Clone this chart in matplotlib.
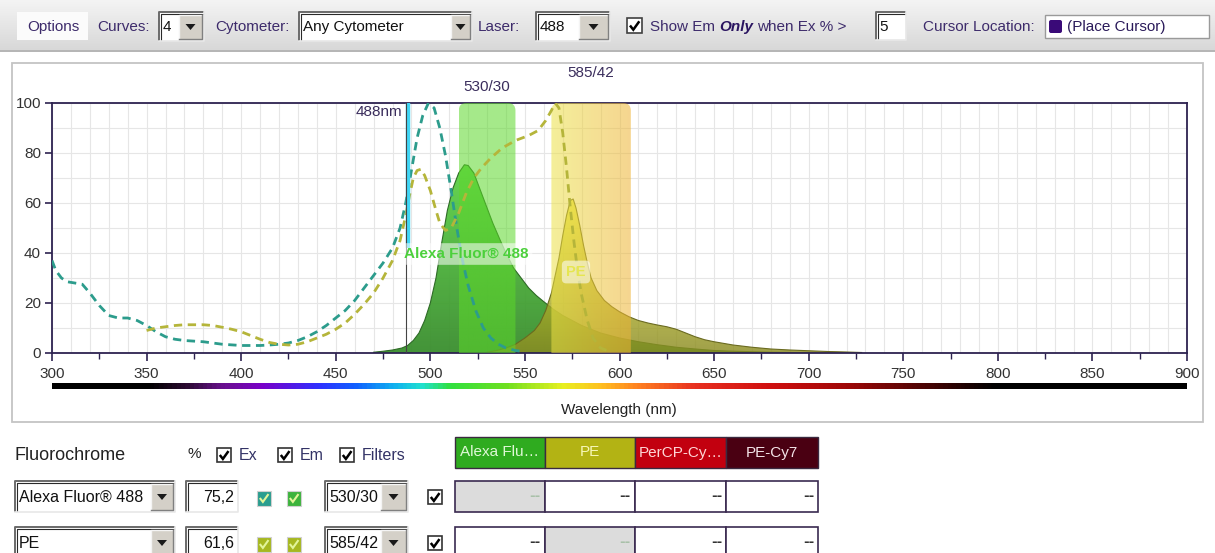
import numpy as np
import matplotlib
matplotlib.use("Agg")
import matplotlib.pyplot as plt
from matplotlib.patches import Rectangle, FancyBboxPatch, Polygon
from matplotlib.colors import LinearSegmentedColormap, Normalize

plt.rcParams['font.family'] = ['Liberation Sans', 'DejaVu Sans']

# ---------------- data ----------------
af488_ex_nm = [300, 302, 305, 308, 312, 316, 320, 325, 330, 335, 340, 345, 350, 355, 360, 365,
               370, 380, 390, 400, 410, 415, 420, 425, 430, 435, 440, 445, 450, 455, 460, 465,
               470, 475, 480, 484, 487, 490, 493, 496, 499, 502, 505, 508, 511, 514, 517, 520,
               524, 528, 532, 536, 540, 545, 550]
af488_ex = [37, 33, 30, 28.5, 28, 27.5, 24, 19, 15, 14, 14, 13, 11, 8.5, 6.5, 5.5,
            5, 4.5, 3.5, 3, 3, 3.2, 3.5, 4, 5, 6.5, 8.5, 11, 14, 17, 21, 26,
            31, 36, 42, 50, 60, 73, 86, 95, 100, 98, 90, 79, 65, 50, 37, 27,
            17, 10, 6, 3.5, 2, 1, 0.5]

pe_ex_nm = [350, 355, 360, 365, 370, 375, 380, 385, 390, 395, 400, 405, 410, 415, 420, 425,
            430, 435, 440, 445, 450, 455, 460, 465, 470, 475, 480, 484, 487, 489, 491, 493,
            495, 497, 500, 503, 505, 508, 511, 515, 519, 523, 527, 532, 538, 545, 552, 557,
            561, 564, 566, 568, 570, 572, 574, 576, 578, 580, 583, 586, 590, 595]
pe_ex = [9, 10, 10.5, 11, 11.3, 11.3, 11.3, 11, 10.3, 9.5, 8.5, 7, 5.5, 4.2, 3.5, 3.2,
         3.5, 4.5, 6, 7.5, 9.5, 12, 15.5, 19.5, 24, 30, 37, 45, 55, 63, 70, 73,
         73.5, 71, 65, 57, 52, 49, 50, 56, 64, 70, 74, 78, 82, 85, 87, 89,
         93, 97, 100, 98, 88, 74, 58, 44, 32, 23, 13, 6, 2, 0.5]

af488_em_nm = [470, 475, 480, 485, 488, 491, 494, 497, 500, 503, 506, 509, 512, 515, 518, 520,
               523, 526, 530, 533, 537, 540, 544, 548, 552, 556, 560, 565, 570, 575, 580, 585,
               590, 595, 600, 610, 620, 630, 640, 650, 660, 680, 700]
af488_em = [0.3, 0.7, 1.2, 2, 3, 5, 8, 13, 20, 30, 44, 57, 66, 72, 75.3, 75,
            72, 66, 58, 52, 45, 40, 34, 30, 26, 23, 20.5, 17.5, 15, 13, 11, 9.5,
            8, 7, 6, 4.5, 3.3, 2.3, 1.6, 1, 0.7, 0.3, 0.1]

pe_em_nm = [530, 535, 540, 545, 550, 555, 558, 561, 564, 566, 568, 570, 572, 574, 575.5, 577,
            579, 581, 583, 585, 588, 592, 596, 600, 605, 610, 615, 620, 625, 630, 635, 640,
            645, 650, 660, 670, 680, 690, 700, 710, 720, 728]
pe_em = [0.3, 1, 2, 3.5, 6, 9, 12, 17, 24, 31, 38, 47, 55, 61, 61.6, 58,
         51, 43, 36, 30, 25, 21, 18.5, 16.5, 14.5, 13, 12, 11.2, 10.5, 9.5, 8, 6.5,
         5.3, 4.5, 3.2, 2.3, 1.6, 1.2, 0.9, 0.6, 0.4, 0.2]

filter_names = ["530/30", "585/42"]
filter_center = [530, 585]
filter_width = [30, 42]
laser_nm = 488

x_ticks = list(range(300, 901, 50))
y_ticks = [0, 20, 40, 60, 80, 100]

fluor_names = ["Alexa Fluor® 488", "PE"]
fluor_pct = ["75,2", "61,6"]
fluor_filters = ["530/30", "585/42"]
header_names = ["Alexa Flu…", "PE", "PerCP-Cy…", "PE-Cy7"]
header_colors = ["#2fab1f", "#b3b314", "#c2000f", "#4a0012"]
header_text_colors = ["#dff8d6", "#f8f8b8", "#ffd6d6", "#f4e4e8"]
ex_box_colors = ["#2a9d8f", "#a6b820"]
em_box_colors = ["#3cb33c", "#a6b820"]

# ---------------- figure ----------------
W, H = 1215, 553
fig = plt.figure(figsize=(12.15, 5.53), dpi=100, facecolor="white")
bg = fig.add_axes([0, 0, 1, 1], zorder=0)
bg.axis("off")
bg.set_xlim(0, W)
bg.set_ylim(H, 0)

TXT = "#3d2b6b"
TB = 11

# toolbar gradient
tb_cmap = LinearSegmentedColormap.from_list("tb", ["#f4f4f4", "#d8d8d8"])
bg.imshow(np.linspace(0, 1, 60).reshape(-1, 1), extent=[0, W, 50, 0], cmap=tb_cmap,
          aspect="auto", interpolation="bilinear", zorder=0)
bg.plot([0, W], [50.5, 50.5], color="#a8a8a8", lw=1.2, zorder=1)


def sunken_box(x0, y0, x1, y1, fc="white"):
    bg.add_patch(Rectangle((x0, y0), x1 - x0, y1 - y0, fc=fc, ec="none", zorder=2))
    bg.plot([x0, x0, x1], [y1, y0, y0], color="#6a6a6a", lw=1.4, zorder=3,
            solid_capstyle="butt")
    bg.plot([x0 + 1.5, x0 + 1.5, x1 - 1], [y1 - 1, y0 + 1.5, y0 + 1.5], color="#2a2a2a",
            lw=0.8, zorder=3)
    bg.plot([x0, x1, x1], [y1, y1, y0], color="#e8e8e8", lw=1.2, zorder=3)


def arrow_button(x0, y0, x1, y1):
    bg.add_patch(Rectangle((x0, y0), x1 - x0, y1 - y0, fc="#d4d0c8", ec="none", zorder=4))
    bg.plot([x0, x0, x1], [y1, y0, y0], color="#f4f4f4", lw=1, zorder=5)
    bg.plot([x0, x1, x1], [y1, y1, y0], color="#808080", lw=1, zorder=5)
    cx, cy = (x0 + x1) / 2, (y0 + y1) / 2
    bg.add_patch(Polygon([(cx - 5, cy - 2.5), (cx + 5, cy - 2.5), (cx, cy + 3.5)],
                         closed=True, fc="#1a1a1a", ec="none", zorder=6))


def dropdown(x0, y0, x1, y1, aw, text, size=11.5, color="#111111"):
    sunken_box(x0, y0, x1, y1)
    arrow_button(x1 - aw, y0 + 2.5, x1 - 2, y1 - 2.5)
    bg.text(x0 + 4, (y0 + y1) / 2 + 0.5, text, ha="left", va="center", fontsize=size,
            color=color, zorder=6)


def check(x, y, s, color="black", lw=1.8):
    bg.plot([x + 0.2 * s, x + 0.42 * s, x + 0.82 * s],
            [y + 0.5 * s, y + 0.78 * s, y + 0.22 * s], color=color, lw=lw, zorder=7,
            solid_capstyle="butt", solid_joinstyle="miter")


def checkbox(x, y, s, fc="white", ec="#333333", ck="black"):
    bg.add_patch(Rectangle((x, y), s, s, fc=fc, ec=ec, lw=1.2, zorder=5))
    check(x, y, s, color=ck)


renderer = fig.canvas.get_renderer()


def text_right_px(t):
    bb = t.get_window_extent(renderer=renderer)
    return bb.x1 * W / fig.bbox.width


# toolbar contents
bg.add_patch(Rectangle((17, 12), 71, 28, fc="#fbfbfb", ec="none", zorder=2))
bg.text(27, 27, "Options", fontsize=TB, color=TXT, va="center", zorder=6)
bg.text(97, 27, "Curves:", fontsize=TB, color=TXT, va="center", zorder=6)
dropdown(159, 12, 204, 41, 25, "4", size=TB)
bg.text(215, 27, "Cytometer:", fontsize=TB, color=TXT, va="center", zorder=6)
dropdown(299, 12, 472, 41, 21, "Any Cytometer", size=TB)
bg.text(478, 27, "Laser:", fontsize=TB, color=TXT, va="center", zorder=6)
dropdown(536, 12, 610, 41, 31, "488", size=TB)
bg.add_patch(Rectangle((627, 18), 15, 15, fc="white", ec="#404040", lw=1.2, zorder=5))
check(627, 18, 15)
t1 = bg.text(650, 27, "Show Em", fontsize=TB, color=TXT, va="center", zorder=6)
x_only = text_right_px(t1) + 4
t2 = bg.text(x_only, 27, "Only", fontsize=TB, color="#2a1460", va="center",
             fontweight="bold", fontstyle="italic", zorder=6)
x_when = text_right_px(t2) + 4
bg.text(x_when, 27, "when Ex % >", fontsize=TB, color=TXT, va="center", zorder=6)
sunken_box(876, 12, 906, 40)
bg.text(879, 27, "5", fontsize=TB, color="#111", va="center", zorder=6)
bg.text(923, 27, "Cursor Location:", fontsize=TB, color=TXT, va="center", zorder=6)
bg.add_patch(Rectangle((1045, 15), 164, 23, fc="white", ec="#9a9a9a", lw=1, zorder=2))
bg.add_patch(FancyBboxPatch((1049, 20), 13, 13, boxstyle="round,pad=0,rounding_size=2",
                            fc="#3a0a78", ec="none", zorder=4))
bg.text(1067, 27, "(Place Cursor)", fontsize=TB, color="#2a1a5a", va="center", zorder=6)

# chart panel
bg.add_patch(Rectangle((12, 63), 1191, 359, fc="white", ec="#c4c4c4", lw=1.3, zorder=1))
bg.text(619, 410, "Wavelength (nm)", ha="center", va="center", fontsize=11, color="#222",
        zorder=6)

# lower controls
BT = "#222222"
bg.text(15, 455, "Fluorochrome", fontsize=13, color=BT, va="center", zorder=6)
bg.text(188, 454, "%", fontsize=11, color=BT, va="center", zorder=6)
checkbox(217, 448, 14)
bg.text(239, 455, "Ex", fontsize=11.5, color="#333366", va="center", zorder=6)
checkbox(278, 448, 14)
bg.text(300, 455, "Em", fontsize=11.5, color="#333366", va="center", zorder=6)
checkbox(340, 448, 14)
bg.text(362, 455, "Filters", fontsize=11.5, color="#333366", va="center", zorder=6)

cell_edges = [455, 545, 635, 726, 818]
for i, name in enumerate(header_names):
    x0, x1 = cell_edges[i], cell_edges[i + 1]
    bg.add_patch(Rectangle((x0, 437), x1 - x0, 31, fc=header_colors[i], ec="#3a2a40",
                           lw=1, zorder=3))
    bg.text((x0 + x1) / 2, 452.5, name, ha="center", va="center", fontsize=11,
            color=header_text_colors[i], zorder=6)

row_tops = [481, 527]
for r, name in enumerate(fluor_names):
    y0 = row_tops[r]
    y1 = y0 + 31
    dropdown(15, y0, 175, y1, 24, name, size=11.5)
    sunken_box(186, y0, 238, y1)
    bg.text(234, (y0 + y1) / 2 + 0.5, fluor_pct[r], ha="right", va="center", fontsize=11.5,
            color="#111", zorder=6)
    bg.add_patch(Rectangle((257, y0 + 10), 14, 15, fc=ex_box_colors[r], ec="#d0d0d0", lw=0.8,
                           zorder=5))
    check(257, y0 + 10, 14, color="#e2f59a", lw=1.5)
    bg.add_patch(Rectangle((287, y0 + 10), 14, 15, fc=em_box_colors[r], ec="#d0d0d0", lw=0.8,
                           zorder=5))
    check(287, y0 + 10, 14, color="#e2f59a", lw=1.5)
    dropdown(325, y0, 408, y1, 27, fluor_filters[r], size=11.5)
    checkbox(428, y0 + 9, 14)
    for i in range(len(header_names)):
        x0, x1 = cell_edges[i], cell_edges[i + 1]
        grey = (i == r)
        bg.add_patch(Rectangle((x0, y0), x1 - x0, y1 - y0, fc="#dcdcdc" if grey else "white",
                               ec="#3a2a50", lw=1.2, zorder=3))
        bg.text(x1 - 4, (y0 + y1) / 2, "--", ha="right", va="center", fontsize=9.5,
                family="DejaVu Sans", fontweight="bold",
                color="#a8c0a8" if grey else "#333", zorder=6)

bg.set_xlim(0, W)
bg.set_ylim(H, 0)

# ---------------- spectrum colour bar ----------------
spec_nm = [300, 350, 370, 390, 410, 440, 460, 480, 495, 510, 540, 570, 590, 610, 640, 680,
           720, 760, 790, 800, 900]
spec_col = ["#000000", "#000000", "#2a0a30", "#6a1090", "#7a00c8", "#3030ff", "#1060ff",
            "#10b0f0", "#20e0d0", "#30e040", "#70e020", "#e8f020", "#ffc020", "#ff8020",
            "#e83020", "#d01010", "#a00808", "#500404", "#100000", "#000000", "#000000"]
spec_cmap = LinearSegmentedColormap.from_list(
    "spec", [((v - 300) / 600, c) for v, c in zip(spec_nm, spec_col)])
cax = fig.add_axes([52 / W, 1 - 389 / H, 1135 / W, 6 / H], zorder=3)
cax.imshow(np.linspace(300, 900, 1200).reshape(1, -1), cmap=spec_cmap,
           norm=Normalize(300, 900), aspect="auto", extent=[300, 900, 0, 1])
cax.axis("off")

# ---------------- main plot ----------------
ax = fig.add_axes([52 / W, 1 - 353 / H, 1135 / W, 250 / H], zorder=4)
ax.set_facecolor("white")
for gx in range(300, 901, 10):
    ax.axvline(gx, color="#e6e6e6", lw=0.8, zorder=0)
for gy in range(0, 101, 10):
    ax.axhline(gy, color="#e6e6e6", lw=0.8, zorder=0)


def gradient_fill(xs, ys, c_bot, c_top, alpha, z, edge):
    poly = ax.fill_between(xs, ys, 0, color="none", lw=0, zorder=z)
    cm = LinearSegmentedColormap.from_list("g", [c_bot, c_top])
    top = max(ys)
    im = ax.imshow(np.linspace(0, 1, 100).reshape(-1, 1), extent=[min(xs), max(xs), 0, top],
                   origin="lower", cmap=cm, aspect="auto", alpha=alpha, zorder=z,
                   interpolation="bilinear")
    im.set_clip_path(poly.get_paths()[0], transform=ax.transData)
    ax.plot(xs, ys, color=edge, lw=0.8, zorder=z + 0.1)


gradient_fill(af488_em_nm, af488_em, "#3a8e2e", "#5ed448", 0.95, 2, "#2e6a26")
gradient_fill(pe_em_nm, pe_em, "#8c8c22", "#eaea36", 0.82, 2.2, "#6a6a20")

# filter bands
band_cols = [("#5cd82a", "#5cd82a"), ("#ece247", "#eeb435")]
for name, c, w, (cl, cr) in zip(filter_names, filter_center, filter_width, band_cols):
    patch = FancyBboxPatch((c - w / 2, -10), w, 110,
                           boxstyle="round,pad=0,rounding_size=4", mutation_aspect=0.757,
                           fc="none", ec="none", zorder=3)
    ax.add_patch(patch)
    cm = LinearSegmentedColormap.from_list("b", [cl, cr])
    im = ax.imshow(np.linspace(0, 1, 50).reshape(1, -1), extent=[c - w / 2, c + w / 2, -10, 100],
                   cmap=cm, aspect="auto", alpha=0.55, zorder=3, interpolation="bilinear")
    im.set_clip_path(patch)
    ax.text(c, 106.4 if c < 560 else 112, name, ha="center", va="center", fontsize=11,
            color="#3a2d5c", clip_on=False)

# excitation curves
ax.plot(af488_ex_nm, af488_ex, color="#2c9c8c", lw=2, dashes=(3, 2), zorder=5)
ax.plot(pe_ex_nm, pe_ex, color="#b5b53a", lw=2, dashes=(3, 2), zorder=5)

# laser
ax.plot([laser_nm, laser_nm], [42, 100], color="#3fd6f5", lw=3.2, solid_capstyle="butt",
        zorder=6)
ax.plot([laser_nm - 0.8, laser_nm - 0.8], [0, 100], color="#444444", lw=0.8, zorder=6)
ax.text(laser_nm - 3, 96.4, f"{laser_nm}nm", ha="right", va="center", fontsize=11,
        color="#3a2d5c", zorder=7)

# fluorochrome labels
ax.text(519, 39.6, "Alexa Fluor® 488", ha="center", va="center", fontsize=11,
        fontweight="bold", color="#4cd03c", zorder=8,
        bbox=dict(boxstyle="round,pad=0.25", fc="white", ec="none", alpha=0.55))
ax.text(577, 32.4, "PE", ha="center", va="center", fontsize=10.5, fontweight="bold",
        color="#e6e650", zorder=8,
        bbox=dict(boxstyle="round,pad=0.3", fc="white", ec="none", alpha=0.55))

ax.set_xlim(300, 900)
ax.set_ylim(0, 100)
ax.set_xticks(x_ticks)
ax.set_xticks(np.arange(325, 900, 50), minor=True)
ax.set_yticks(y_ticks)
ax.tick_params(axis="x", which="major", direction="out", length=6, width=1.2,
               color="#2d2250", pad=4, labelsize=11, labelcolor="#333")
ax.tick_params(axis="x", which="minor", direction="out", length=4, width=1, color="#2d2250")
ax.tick_params(axis="y", which="major", direction="out", length=5, width=1.2,
               color="#2d2250", pad=3, labelsize=11, labelcolor="#333")
for s in ax.spines.values():
    s.set_color("#2d2250")
    s.set_linewidth(1.3)

fig.savefig("out.png", dpi=100, facecolor="white")
